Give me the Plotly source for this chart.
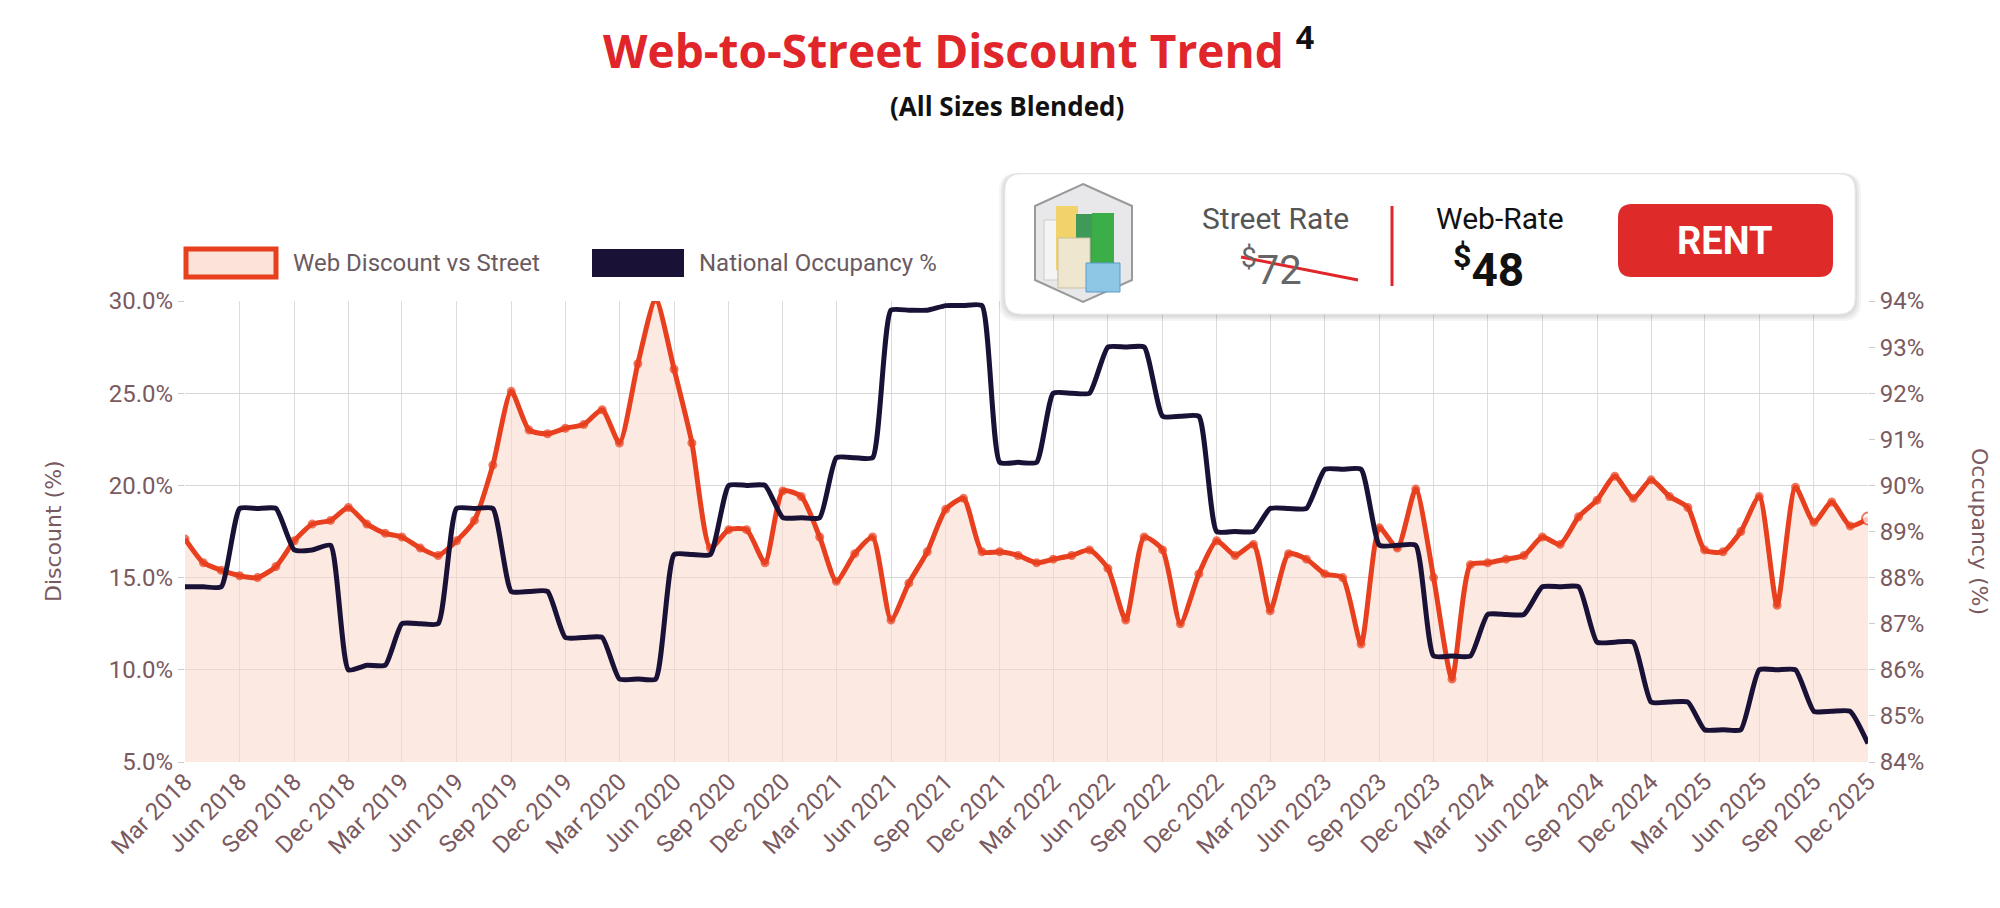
import plotly.graph_objects as go
import pandas as pd

months = pd.date_range("2018-03-01", "2025-12-01", freq="MS")
discount = [17.1,15.8,15.4,15.1,15.0,15.6,17.0,17.9,18.1,18.8,
 17.9,17.4,17.2,16.6,16.2,17.0,18.1,21.1,25.1,23.0,22.8,23.1,
 23.3,24.1,22.3,26.6,30.1,26.3,22.3,16.6,17.6,17.6,15.8,19.7,
 19.4,17.2,14.8,16.3,17.2,12.7,14.7,16.4,18.7,19.3,16.4,16.4,
 16.2,15.8,16.0,16.2,16.5,15.5,12.7,17.2,16.5,12.5,15.2,17.0,
 16.2,16.8,13.2,16.3,16.0,15.2,15.0,11.4,17.7,16.6,19.8,15.0,
 9.5,15.7,15.8,16.0,16.2,17.2,16.8,18.3,19.2,20.5,19.3,20.3,
 19.4,18.8,16.5,16.4,17.5,19.4,13.5,19.9,18.0,19.1,17.8,18.2]
occupancy = [87.8,87.8,87.8,89.5,89.5,89.5,88.6,88.6,88.7,86.0,
 86.1,86.1,87.0,87.0,87.0,89.5,89.5,89.5,87.7,87.7,87.7,86.7,
 86.7,86.7,85.8,85.8,85.8,88.5,88.5,88.5,90.0,90.0,90.0,89.3,
 89.3,89.3,90.6,90.6,90.6,93.8,93.8,93.8,93.9,93.9,93.9,90.5,
 90.5,90.5,92.0,92.0,92.0,93.0,93.0,93.0,91.5,91.5,91.5,89.0,
 89.0,89.0,89.5,89.5,89.5,90.35,90.35,90.35,88.7,88.7,88.7,86.3,
 86.3,86.3,87.2,87.2,87.2,87.8,87.8,87.8,86.6,86.6,86.6,85.3,
 85.3,85.3,84.7,84.7,84.7,86.0,86.0,86.0,85.1,85.1,85.1,84.4]
quarter_ticks = pd.date_range("2018-03-01", "2025-12-01", freq="3MS")
left_ticks = [5, 10, 15, 20, 25, 30]
right_ticks = list(range(84, 95))

W, H = 2000, 908
L, R, T, B = 177, 1860, 293, 754
def px(x): return (x - L) / (R - L)
def py(y): return (B - y) / (B - T)

RED = "#e8401f"
NAVY = "#1a1236"
TICK = "#7a5a60"
n = len(months)

fig = go.Figure()
fig.add_trace(go.Scatter(x=months, y=discount, mode="lines", fill="tozeroy",
    fillcolor="rgba(250,215,200,0.55)", line=dict(color=RED, width=5, shape="spline", smoothing=0.6),
    showlegend=False, yaxis="y", hoverinfo="skip"))
fig.add_trace(go.Scatter(x=months, y=discount, mode="markers",
    marker=dict(size=[7]*(n-1)+[12], color=[RED]*(n-1)+["white"],
                line=dict(color=RED, width=2)),
    showlegend=False, yaxis="y"))
fig.add_trace(go.Scatter(x=months, y=occupancy, mode="lines",
    line=dict(color=NAVY, width=5, shape="spline", smoothing=0.5), showlegend=False, yaxis="y2"))

narrow = "Liberation Sans Narrow, Roboto, sans-serif"
fig.update_layout(width=W, height=H, margin=dict(l=L, r=W-R, t=T, b=H-B),
    paper_bgcolor="white", plot_bgcolor="white",
    xaxis=dict(range=[months[0], months[-1]], tickvals=quarter_ticks,
               ticktext=[d.strftime("%b %Y") for d in quarter_ticks], tickangle=-45,
               tickfont=dict(family=narrow, size=24, color=TICK), showgrid=True,
               gridcolor="#dcdcdc", zeroline=False, showline=False),
    yaxis=dict(range=[5, 30], tickvals=left_ticks, ticktext=[f"{v:.1f}%" for v in left_ticks],
               tickfont=dict(family=narrow, size=24, color=TICK), gridcolor="#d8d8d8", zeroline=False,
               ticks="outside", ticklen=6, tickcolor="#ccc"),
    yaxis2=dict(range=[84, 94], overlaying="y", side="right", tickvals=right_ticks,
                ticktext=[f"{v}%" for v in right_ticks], showgrid=False, zeroline=False,
                tickfont=dict(family=narrow, size=24, color=TICK), ticks="outside", ticklen=6, tickcolor="#ccc"),
)

ann = []
def A(x, y, text, size, color, xanchor="center", family="Open Sans, sans-serif", angle=0):
    ann.append(dict(x=px(x), y=py(y), xref="paper", yref="paper", text=text, showarrow=False,
                    xanchor=xanchor, yanchor="middle", textangle=angle,
                    font=dict(size=size, color=color, family=family)))

A(950, 40, "<b>Web-to-Street Discount Trend</b> <sup><b><span style='color:#111'>4</span></b></sup>", 46, "#e0262a")
A(999, 98, "<b>(All Sizes Blended)</b>", 26, "#111")
A(45, 523, "Discount (%)", 22, TICK, angle=-90, family="DejaVu Sans, sans-serif")
A(1972, 523, "Occupancy (%)", 22, TICK, angle=90, family="DejaVu Sans, sans-serif")
A(283, 255, "Web Discount vs Street", 24, "#6b5a5f", xanchor="left", family=narrow)
A(689, 255, "National Occupancy %", 24, "#6b5a5f", xanchor="left", family=narrow)
A(1267, 210, "Street Rate", 30, "#555", family="Roboto, sans-serif")
A(1263, 259, "<sup>$</sup>72", 40, "#666", family="Roboto, sans-serif")
A(1492, 210, "Web-Rate", 30, "#111", family="Roboto, sans-serif")
A(1480, 259, "<b><sup>$</sup>48</b>", 46, "#111", family="Roboto, sans-serif")
A(1717, 233, "<b>RENT</b>", 38, "white", family="Roboto, sans-serif")

def rrect(x0, y0, x1, y1, r):
    X0, X1 = px(x0), px(x1); Y0, Y1 = py(y1), py(y0)
    rx = r / (R - L); ry = r / (B - T)
    return (f"M{X0+rx},{Y0} L{X1-rx},{Y0} Q{X1},{Y0} {X1},{Y0+ry} L{X1},{Y1-ry} Q{X1},{Y1} {X1-rx},{Y1} "
            f"L{X0+rx},{Y1} Q{X0},{Y1} {X0},{Y1-ry} L{X0},{Y0+ry} Q{X0},{Y0} {X0+rx},{Y0} Z")

shapes = []
def S(**k):
    k.setdefault("xref", "paper"); k.setdefault("yref", "paper"); shapes.append(k)
def rect(x0, y0, x1, y1, fill, lc=None, lw=0):
    S(type="rect", x0=px(x0), x1=px(x1), y0=py(y1), y1=py(y0), fillcolor=fill,
      line=dict(color=lc or fill, width=lw))

rect(178, 241, 268, 269, "#fbe3d9", RED, 5)
rect(584, 241, 676, 269, NAVY)
for i, op in enumerate([0.05, 0.05, 0.04]):
    S(type="path", path=rrect(995-2*i, 165, 1849+2*i, 309+2*i, 18), fillcolor=f"rgba(0,0,0,{op})", line=dict(width=0))
S(type="path", path=rrect(997, 166, 1847, 306, 16), fillcolor="white", line=dict(color="#eeeeee", width=1))
S(type="path", path=rrect(1610, 196, 1825, 269, 14), fillcolor="#df2a2a", line=dict(width=0))
S(type="line", x0=px(1384), x1=px(1384), y0=py(198), y1=py(278), line=dict(color="#e0262a", width=3))
S(type="line", x0=px(1233), x1=px(1350), y0=py(249), y1=py(272), line=dict(color="#e0262a", width=3))
S(type="path", path=f"M{px(1075)},{py(176)} L{px(1124)},{py(198)} L{px(1124)},{py(272)} L{px(1075)},{py(294)} L{px(1027)},{py(272)} L{px(1027)},{py(198)} Z",
  fillcolor="#e8e8ea", line=dict(color="#9a9a9a", width=2))
rect(1036, 212, 1050, 272, "#f4f4f4", "#ccc", 1)
rect(1048, 198, 1070, 262, "#f2d36b")
rect(1068, 206, 1086, 262, "#3f9a5a")
rect(1084, 205, 1106, 272, "#3cae48")
rect(1050, 230, 1082, 280, "#efe6cf", "#cbbf9f", 1)
rect(1078, 255, 1112, 284, "#8ec6e6", "#5b9cc8", 1)

fig.update_layout(annotations=ann, shapes=shapes)
fig.write_html("out.html")
